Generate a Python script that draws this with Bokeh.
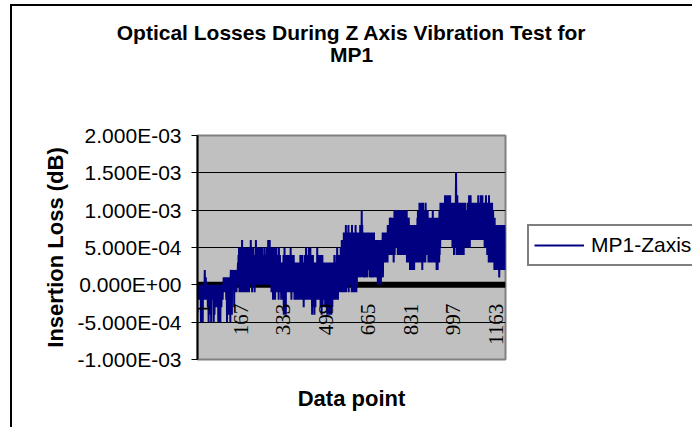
import math
from bokeh.plotting import figure
from bokeh.layouts import column
from bokeh.models import (ColumnDataSource, FixedTicker, Span, LabelSet,
                          Legend, LegendItem, Title)
from bokeh.embed import file_html
from bokeh.resources import INLINE

# ---------------- data ----------------
title_lines = ["Optical Losses During Z Axis Vibration Test for", "MP1"]
y_title = "Insertion Loss (dB)"
x_title = "Data point"
series_name = "MP1-Zaxis"

y_ticks = [-1e-3, -5e-4, 0.0, 5e-4, 1e-3, 1.5e-3, 2e-3]
y_tick_labels = ["-1.000E-03", "-5.000E-04", "0.000E+00", "5.000E-04",
                 "1.000E-03", "1.500E-03", "2.000E-03"]
x_tick_values = [1, 167, 333, 499, 665, 831, 997, 1163]
x_tick_labels = ["1", "167", "333", "499", "665", "831", "997", "1163"]

# insertion loss readings, one character per data point:
# 'f' = 0 dB, each letter step = 1.0E-04 dB ('a' = -5E-04 ... 'u' = 1.5E-03)
loss_codes = [
    "feedfedfefde" "fafdebfeafed" "fedfhefdgefe" "dfefcfeafdfe" "bfefdafefdfe",
    "fdfaefbfedfe" "fcefdfefdafe" "fbfefafdfcef" "efdfefgfefeg" "fgefdgfafbgf",
    "gefbgegfaghf" "gfbhgfhegfhc" "hfgehgfhegfh" "ghifjfkgeihj" "fkejgflfjegk",
    "jekfjgiekfjg" "ifjekgjfiejh" "kgjflfjgkeig" "jfkgifjeigjf" "lgkfjgifkgjg",
    "jgifkgjhigjf" "kgighjfigkhj" "fighjgkfigjf" "lgkgjflgjfkg" "iejfkeidjeif",
    "kejdjeifkeje" "jeifjdkeifje" "iegdhfiehdif" "jbifkcjeibje" "ifhejeiegfje",
    "jejfkeidjeif" "iehejfidhfie" "hdiegeidheie" "ieidhfjeiehd" "iejeidhcieid",
    "jeiekdjeiejd" "ieikejdiekei" "jdiebicjeicf" "hbiehcidheif" "kdieidjdhdie",
    "icjeibidjcie" "hdieidhcieid" "iehbidicheib" "hcidiehbidhc" "iedieidjeide",
    "idiejekeidje" "jeieifjekeif" "lfieleifmfke" "mfkgnemgkfmf" "lfnemgkflgmf",
    "mfleneflgmfk" "lemfkenflemf" "mgkhmglhmgkh" "nhlgmhpgnhlg" "mhkglhmgkhlg",
    "lhmgkhlhmhkh" "lgmhkglhkgmh" "khlgkhmglhkh" "lgkhlgkglfkg" "kfkglfkgkfkg",
    "lgkhmgliljmi" "lilimjljmili" "nkmjnkmjokmj" "nkojnkmjokni" "okpjnkokplnk",
    "pkojpkojpkok" "pjokpjnkpkoj" "pkojpkokpjnk" "okpinjoiniom" "ninhmjnininh",
    "nimjninhmjni" "minjnimjojpi" "pjoiqjpjoipj" "qiphpjqjoipi" "pjoiqjpkojpj",
    "pjoinjoiojni" "ojnioinjpjoi" "njoinioinjoh" "ojnhoinjoipj" "pkqlplqmplqm",
    "pmqlpmqlrlpm" "qlrmplqlpmrl" "qmplrlqmplql" "pkqkplqjpkql" "qkpuqjpkrjqk",
    "pjqkpjqkojpk" "qjpkqjokpjqk" "pkqlpkoknkpl" "qkplqkrlpkql" "rlqmplqlpmql",
    "qlpmqlpmqmpl" "qmplqmrlpmql" "pmqlrlqmplrl" "qlpmqlpkqkpl" "rkpkqjpkojpi",
    "rjpiqjoipjqi" "qiojpioinhoi" "mhnilhmhnini" "mhnigimhmhnh" "mimhnhmimhni",
    "mhnhm",
]

codes = "".join(loss_codes)
loss_db = [(ord(c) - ord("f")) * 1e-4 for c in codes]
data_point = list(range(1, len(loss_db) + 1))
N = len(loss_db)

FONT = "Liberation Sans"
NAVY = "#000080"

# ---------------- figure ----------------
p = figure(frame_width=308, frame_height=224,
           output_backend="svg", toolbar_location=None,
           x_range=(0.5, N + 0.5), y_range=(y_ticks[0], y_ticks[-1]),
           min_border_left=197, min_border_right=187,
           min_border_top=135, min_border_bottom=68,
           background_fill_color="#C0C0C0", border_fill_color=None,
           outline_line_color="#808080", outline_line_width=2)

# y axis
p.yaxis.ticker = FixedTicker(ticks=y_ticks)
p.yaxis.major_label_overrides = dict(zip(y_ticks, y_tick_labels))
p.yaxis.major_label_text_font = FONT
p.yaxis.major_label_text_font_size = "21px"
p.yaxis.major_label_text_color = "black"
p.yaxis.axis_line_color = "black"
p.yaxis.axis_line_width = 2
p.yaxis.major_tick_line_color = "black"
p.yaxis.major_tick_line_width = 1
p.yaxis.major_tick_out = 6
p.yaxis.major_tick_in = 0
p.yaxis.minor_tick_line_color = None
p.yaxis.major_label_standoff = 10
p.yaxis.axis_label = y_title
p.yaxis.axis_label_text_font = FONT
p.yaxis.axis_label_text_font_style = "bold"
p.yaxis.axis_label_text_font_size = "22px"
p.yaxis.axis_label_text_color = "black"
p.yaxis.axis_label_standoff = 7

# x axis (only its title is shown below the plot)
p.xaxis.ticker = FixedTicker(ticks=[])
p.xaxis.axis_line_color = None
p.xaxis.major_tick_line_color = None
p.xaxis.minor_tick_line_color = None
p.xaxis.major_label_text_font_size = "0px"
p.xaxis.axis_label = x_title
p.xaxis.axis_label_text_font = FONT
p.xaxis.axis_label_text_font_style = "bold"
p.xaxis.axis_label_text_font_size = "22px"
p.xaxis.axis_label_text_color = "black"
p.xaxis.axis_label_standoff = 26

# grid
p.xgrid.visible = False
p.ygrid.ticker = FixedTicker(ticks=y_ticks[1:-1])
p.ygrid.grid_line_color = "black"
p.ygrid.grid_line_width = 1

# category axis line crossing at zero
p.add_layout(Span(location=0, dimension="width", line_color="black",
                  line_width=6, level="underlay"))

# series
src = ColumnDataSource(dict(x=data_point, y=loss_db))
r = p.line("x", "y", source=src, line_color=NAVY, line_width=2)

# category tick labels (vertical, under the zero line)
tick_src = ColumnDataSource(dict(x=x_tick_values, y=[0] * len(x_tick_values),
                                 t=x_tick_labels,
                                 dx=[5] + [1] * (len(x_tick_values) - 1)))
p.add_layout(LabelSet(x="x", y="y", text="t", source=tick_src,
                      angle=math.pi / 2, text_align="right",
                      text_baseline="middle", x_offset="dx", y_offset=-19,
                      text_font=FONT, text_font_size="21px",
                      text_color="black"))

# legend (in the right-hand panel)
legend = Legend(items=[LegendItem(label=series_name, renderers=[r])],
                location=(22, 93), orientation="vertical",
                border_line_color="black", border_line_width=2,
                background_fill_color="white", background_fill_alpha=1,
                label_text_font=FONT, label_text_font_size="21px",
                label_text_color="black",
                glyph_width=50, glyph_height=28, label_standoff=7,
                padding=5, margin=0, spacing=0)
p.add_layout(legend, "right")

# title: spacer next to the plot, then the two title lines
title_kw = dict(align="center", text_font=FONT, text_font_style="bold",
                text_font_size="21px", text_color="black", offset=-6)
spacer = Title(text=" ", **title_kw)
t2 = Title(text=title_lines[1], **title_kw)
t1 = Title(text=title_lines[0], **title_kw)
try:
    spacer.standoff = 45
    t2.standoff = 0
    t1.standoff = -7
except AttributeError:
    pass
p.add_layout(spacer, "above")
p.add_layout(t2, "above")
p.add_layout(t1, "above")

# chart-area border: thin black lines along the left and top edges,
# drawn as the background of a wrapping container
page = column(p, spacing=0, styles={
    "background-color": "white",
    "background-image": "linear-gradient(black, black), linear-gradient(black, black)",
    "background-size": "2px 1000px, 1000px 2px",
    "background-position": "10px 4px, 10px 4px",
    "background-repeat": "no-repeat",
})

open("out.html", "w").write(file_html(page, INLINE))
